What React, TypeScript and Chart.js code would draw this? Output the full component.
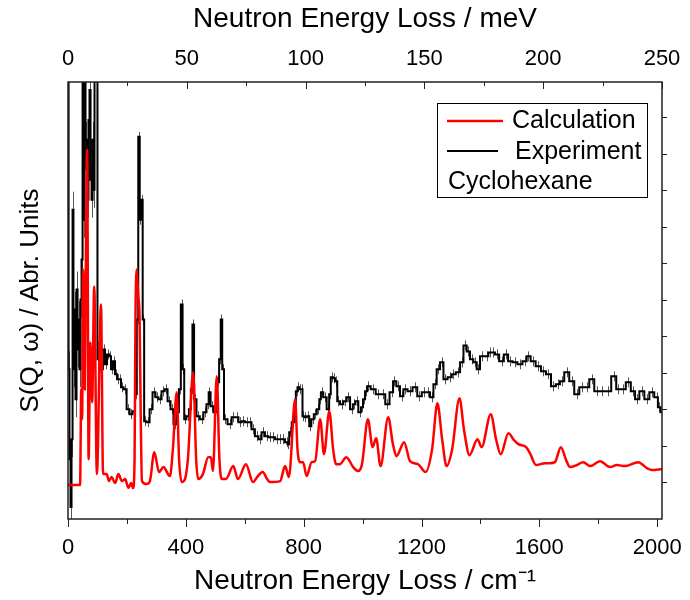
import React, { useEffect, useRef } from "react";
import { Chart, registerables } from "chart.js";
Chart.register(...registerables);

// ---- data (x in cm^-1, y in arbitrary units) ----
const CALC_X = [0,41,45,48,51,57,59,65,70,76,82,89,98,112,119,131,139,148,160,171,183,194,205,214,221,226,229,233,238,243,247,251,267,278,293,309,324,346,356,369,377,386,397,407,425,435,442,458,476,485,492,505,514,522,536,561,577,604,628,642,661,676,686,720,737,750,771,779,788,798,810,827,839,856,869,887,900,910,923,945,968,985,998,1018,1034,1046,1061,1087,1103,1115,1141,1161,1188,1214,1236,1254,1270,1285,1304,1329,1344,1363,1390,1404,1435,1453,1469,1495,1514,1529,1555,1568,1589,1619,1636,1653,1673,1691,1704,1727,1749,1772,1806,1840,1863,1891,1936,1965,1982,2016];
const CALC_Y = [34,34,130,100,250,130,200,370,60,177,117,233,45,215,45,45,38,42,36,45,38,40,31,36,31,60,200,250,225,200,100,38,35,38,67,47,52,43,70,127,60,37,40,60,147,60,40,45,62,62,48,143,60,40,40,53,40,55,37,42,47,40,37,38,53,42,120,70,57,57,43,57,58,100,65,108,70,55,55,62,52,48,55,100,72,81,53,102,75,63,77,58,55,47,70,116,80,53,70,121,90,64,80,72,105,80,65,86,79,75,72,66,54,56,56,57,72,59,52,54,57,53,58,52,54,53,57,51,49,50];

const EXP_X = [1,3,7,10,14,17,20,24,27,31,34,37,41,44,48,51,54,58,61,65,68,71,75,78,82,85,88,92,95,98,102,109,115,122,129,136,143,149,156,163,170,177,183,194,204,214,224,231,236,241,246,251,256,261,272,282,292,302,312,323,333,343,353,363,373,380,386,392,397,407,414,420,425,431,441,454,465,475,480,488,499,510,516,521,526,533,550,561,573,584,595,607,618,628,641,652,662,675,686,697,709,720,731,742,748,754,765,771,776,782,788,793,799,805,816,822,830,839,850,856,861,872,884,889,895,903,910,918,929,940,952,963,971,980,991,998,1005,1012,1019,1036,1053,1070,1084,1099,1108,1121,1133,1144,1161,1178,1193,1209,1223,1235,1246,1257,1269,1280,1297,1308,1325,1337,1348,1359,1370,1382,1393,1404,1421,1433,1444,1455,1472,1487,1501,1517,1534,1551,1563,1578,1597,1614,1631,1648,1664,1676,1693,1710,1727,1744,1761,1778,1795,1812,1834,1854,1868,1885,1902,1919,1931,1948,1965,1982,1998,2007,2016];
const EXP_Y = [460,150,60,12,80,310,150,210,120,230,170,200,150,220,260,460,300,470,380,350,320,400,430,340,320,380,330,460,470,470,160,165,150,170,155,165,163,150,158,145,140,140,132,130,110,105,108,125,200,383,300,320,200,98,97,110,127,122,120,128,130,118,110,95,107,130,215,150,100,103,110,130,195,120,103,100,107,115,127,113,107,137,160,200,150,100,95,102,102,97,98,97,97,90,83,80,87,83,82,82,80,80,80,77,75,87,97,115,128,132,130,130,103,102,103,93,100,105,110,120,127,122,110,125,142,141,138,118,115,118,122,110,115,118,107,112,120,128,133,130,125,125,115,127,138,133,123,130,128,132,123,127,127,122,135,150,157,140,142,145,147,157,174,168,160,157,150,163,163,167,167,165,158,165,158,157,155,158,163,158,153,148,145,133,135,138,147,138,125,132,132,140,128,128,128,143,130,130,137,128,120,128,120,127,122,112,107];
const EXP_ERR_LOW = 18; // error bar half-height below LOW_LIMIT
const EXP_ERR = 5;
const LOW_LIMIT = 110;

// axes
const X_MAX = 2016.4; // cm^-1 (= 250 meV)
const MEV_MAX = 250;
const Y_MAX = 438;
const BOTTOM_LABELS = [0, 400, 800, 1200, 1600, 2000];
const TOP_LABELS = [0, 50, 100, 150, 200, 250];
const BOTTOM_MINOR = 200;
const TOP_MINOR = 25;
const RIGHT_STEP = 36.6;

const FONT = "'Liberation Sans', Arial, sans-serif";

const noPad = (s: any) => { s.paddingLeft = 0; s.paddingRight = 0; };

const decorations = {
  id: "decorations",
  beforeDatasetsDraw(chart: any) {
    const { ctx, chartArea: ca } = chart;
    const xs = chart.scales.x;
    const ys = chart.scales.y;
    ctx.save();
    ctx.beginPath();
    ctx.rect(ca.left, ca.top, ca.right - ca.left, ca.bottom - ca.top);
    ctx.clip();
    ctx.beginPath();
    ctx.strokeStyle = "#555";
    ctx.lineWidth = 1;
    EXP_X.forEach((x, i) => {
      const e = x < LOW_LIMIT ? EXP_ERR_LOW : EXP_ERR;
      const px = Math.round(xs.getPixelForValue(x)) + 0.5;
      ctx.moveTo(px, ys.getPixelForValue(EXP_Y[i] - e));
      ctx.lineTo(px, ys.getPixelForValue(EXP_Y[i] + e));
    });
    ctx.stroke();
    ctx.restore();
  },
  afterDraw(chart: any) {
    const { ctx, chartArea: ca } = chart;
    const xs = chart.scales.x;
    const x2 = chart.scales.x2;
    const y2 = chart.scales.y2;
    ctx.save();
    ctx.strokeStyle = "#222";
    ctx.lineWidth = 1;
    ctx.beginPath();
    for (let v = 0; v <= X_MAX; v += BOTTOM_MINOR) {
      const p = Math.round(xs.getPixelForValue(v)) + 0.5;
      const len = BOTTOM_LABELS.includes(v) ? 8 : 5;
      ctx.moveTo(p, ca.bottom);
      ctx.lineTo(p, ca.bottom + len);
    }
    for (let v = 0; v <= MEV_MAX; v += TOP_MINOR) {
      const p = Math.round(x2.getPixelForValue(v)) + 0.5;
      const len = TOP_LABELS.includes(v) ? 7 : 4;
      ctx.moveTo(p, ca.top);
      ctx.lineTo(p, ca.top + len);
    }
    for (let v = RIGHT_STEP; v <= Y_MAX; v += RIGHT_STEP) {
      const p = Math.round(y2.getPixelForValue(v)) + 0.5;
      ctx.moveTo(ca.right, p);
      ctx.lineTo(ca.right + 5, p);
    }
    ctx.stroke();
    // frame
    ctx.lineWidth = 1.5;
    ctx.strokeStyle = "#222";
    ctx.strokeRect(ca.left, ca.top, ca.right - ca.left, ca.bottom - ca.top);

    // legend box
    const bx = ca.right - 225;
    const by = ca.top + 21;
    ctx.lineWidth = 1;
    ctx.strokeStyle = "#000";
    ctx.strokeRect(bx + 0.5, by + 0.5, 210, 94);
    ctx.lineWidth = 2.5;
    ctx.strokeStyle = "#ff0000";
    ctx.beginPath();
    ctx.moveTo(bx + 10, by + 18);
    ctx.lineTo(bx + 66, by + 18);
    ctx.stroke();
    ctx.lineWidth = 2;
    ctx.strokeStyle = "#000";
    ctx.beginPath();
    ctx.moveTo(bx + 10, by + 48);
    ctx.lineTo(bx + 61, by + 48);
    ctx.stroke();
    ctx.fillStyle = "#000";
    ctx.font = `25px ${FONT}`;
    ctx.textBaseline = "middle";
    ctx.textAlign = "left";
    ctx.fillText("Calculation", bx + 75, by + 18);
    ctx.fillText("Experiment", bx + 78, by + 49);
    ctx.fillText("Cyclohexane", bx + 11, by + 79);
    ctx.restore();
  },
};

export default function App() {
  const ref = useRef<HTMLCanvasElement>(null);
  useEffect(() => {
    if (!ref.current) return;
    const calc = CALC_X.map((x, i) => ({ x, y: CALC_Y[i] }));
    const exp = EXP_X.map((x, i) => ({ x, y: EXP_Y[i] }));
    const chart = new Chart(ref.current, {
      type: "line",
      data: {
        datasets: [
          {
            label: "Calculation",
            data: calc,
            borderColor: "#ff0000",
            borderWidth: 2.5,
            pointRadius: 0,
            cubicInterpolationMode: "monotone",
            xAxisID: "x",
            yAxisID: "y",
          },
          {
            label: "Experiment",
            data: exp,
            borderColor: "#000000",
            borderWidth: 2,
            pointRadius: 0,
            stepped: "middle",
            xAxisID: "x",
            yAxisID: "y",
          },
        ],
      },
      options: {
        responsive: true,
        maintainAspectRatio: false,
        animation: false,
        events: [],
        layout: { padding: 0 },
        plugins: { legend: { display: false }, tooltip: { enabled: false } },
        scales: {
          x: {
            type: "linear",
            position: "bottom",
            min: 0,
            max: X_MAX,
            grid: { display: false },
            border: { display: false },
            afterBuildTicks: (s: any) => { s.ticks = BOTTOM_LABELS.map((value) => ({ value })); },
            ticks: {
              autoSkip: false,
              maxRotation: 0,
              padding: 8,
              color: "#000",
              font: { family: FONT, size: 22 },
              callback: (v: any) => String(v),
            },
            title: {
              display: true,
              text: "Neutron Energy Loss / cm\u207B\u00B9",
              color: "#000",
              font: { family: FONT, size: 28 },
              padding: { top: 0, bottom: 2 },
            },
            afterFit: (s: any) => { s.height = 81; noPad(s); },
          },
          x2: {
            type: "linear",
            position: "top",
            min: 0,
            max: MEV_MAX,
            grid: { display: false },
            border: { display: false },
            afterBuildTicks: (s: any) => { s.ticks = TOP_LABELS.map((value) => ({ value })); },
            ticks: {
              autoSkip: false,
              maxRotation: 0,
              padding: 2,
              color: "#000",
              font: { family: FONT, size: 22 },
              callback: (v: any) => String(v),
            },
            title: {
              display: true,
              text: "Neutron Energy Loss / meV",
              color: "#000",
              font: { family: FONT, size: 28 },
              padding: { top: 2, bottom: 0 },
            },
            afterFit: (s: any) => { s.height = 82; noPad(s); },
          },
          y: {
            type: "linear",
            position: "left",
            min: 0,
            max: Y_MAX,
            grid: { display: false },
            border: { display: false },
            ticks: { display: false },
            title: {
              display: true,
              text: "S(Q, \u03C9) / Abr. Units",
              color: "#000",
              font: { family: FONT, size: 26 },
              padding: { top: 15, bottom: 0 },
            },
            afterFit: (s: any) => { s.width = 68; },
          },
          y2: {
            type: "linear",
            position: "right",
            min: 0,
            max: Y_MAX,
            grid: { display: false },
            border: { display: false },
            ticks: { display: false },
            afterFit: (s: any) => { s.width = 28; },
          },
        },
      },
      plugins: [decorations],
    });
    return () => chart.destroy();
  }, []);
  return (
    <div style={{ position: "fixed", left: 0, top: 0, width: 690, height: 600, background: "#fff" }}>
      <canvas ref={ref} />
    </div>
  );
}
